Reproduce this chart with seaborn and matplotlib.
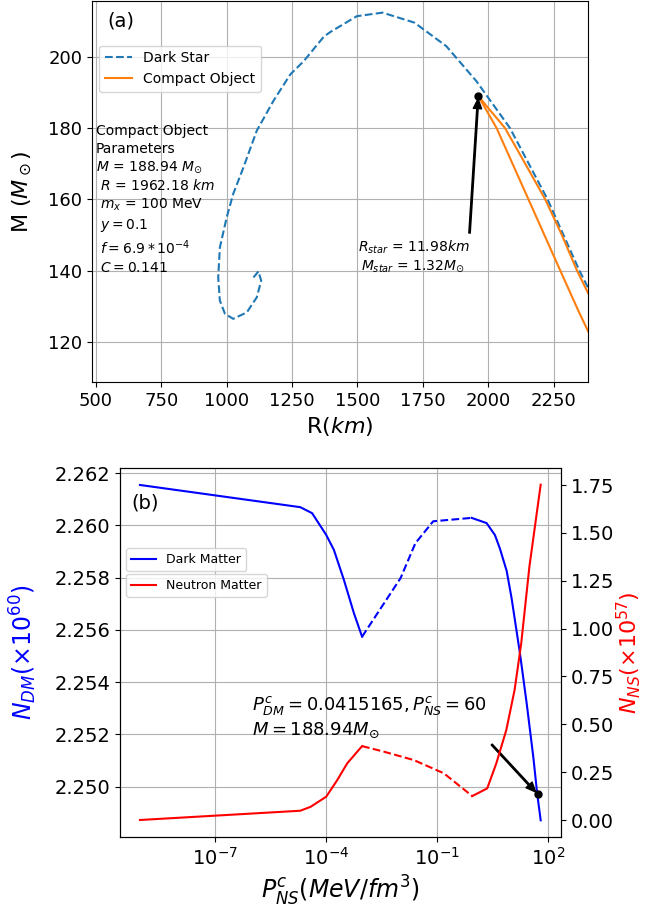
import numpy as np
import pandas as pd
import matplotlib
matplotlib.use("Agg")
import matplotlib.pyplot as plt
from matplotlib.ticker import NullLocator
import seaborn as sns

# ---------------- data: panel (a) ----------------
ds_R = [1102.5, 1121.5, 1132, 1115, 1077, 1025, 993.5, 974, 967.7, 974, 1000, 1025,
        1064, 1115, 1179, 1243.5, 1294.6, 1372, 1397, 1497.7, 1596, 1718, 1840, 1955,
        2083, 2227, 2349, 2383]
ds_M = [138.1, 139.8, 137.2, 132.5, 128.3, 126.5, 127.9, 131.6, 138.1, 146.5, 154.9, 161.5,
        168.9, 179.2, 187.6, 195.0, 198.7, 205.6, 206.9, 211.3, 212.3, 209.5, 202.9, 193.1,
        180.0, 160.0, 140.0, 135.1]

co_upper_R = [1962.18, 2000, 2064, 2140, 2218, 2280, 2340, 2383]
co_upper_M = [188.94, 185.6, 180.0, 170.2, 160.0, 150.3, 140.0, 133.6]
co_lower_R = [1962.18, 2032, 2093, 2154, 2215, 2276, 2346, 2383]
co_lower_M = [188.94, 180.0, 170.0, 160.0, 150.0, 140.0, 128.6, 122.9]

star_R, star_M = 1962.18, 188.94

# ---------------- data: panel (b) ----------------
dm_P1 = [9.33e-10, 2.0e-5, 4.17e-5, 1.0e-4, 1.62e-4, 3.02e-4, 5.62e-4, 9.33e-4]
dm_N1 = [2.26155, 2.2607, 2.26047, 2.25964, 2.25906, 2.25791, 2.25664, 2.25574]
dm_P2 = [9.33e-4, 1.02e-2, 2.57e-2, 7.8e-2, 0.851]
dm_N2 = [2.25574, 2.25798, 2.25932, 2.26016, 2.26029]
dm_P3 = [0.851, 2.16, 3.63, 4.95, 7.52, 10.2, 17.2, 26.1, 39.4, 50.1, 62.4]
dm_N3 = [2.26029, 2.26009, 2.25963, 2.25911, 2.25826, 2.25722, 2.2551, 2.25319, 2.25114,
         2.24974, 2.24871]

ns_P1 = [9.33e-10, 2.0e-5, 3.8e-5, 1.0e-4, 2.0e-4, 3.7e-4, 9.33e-4]
ns_N1 = [0.0, 0.0484, 0.069, 0.1215, 0.209, 0.296, 0.386]
ns_P2 = [9.33e-4, 3.63e-3, 2.34e-2, 0.151, 0.883]
ns_N2 = [0.386, 0.357, 0.313, 0.244, 0.125]
ns_P3 = [0.883, 2.24, 3.95, 7.35, 12.3, 18.6, 30.9, 62.4]
ns_N3 = [0.125, 0.165, 0.296, 0.47, 0.679, 0.923, 1.323, 1.752]

mark_P, mark_N = 51.8, 2.24971

# ---------------- figure ----------------
fig = plt.figure(figsize=(6.45, 9.09), dpi=100)
axA = fig.add_axes([92/645, 1 - 382/909, (588.3 - 92)/645, 381.5/909])
axB = fig.add_axes([120/645, 1 - 837/909, (560.7 - 120)/645, (837 - 468)/909])

# ---- panel (a)
sns.lineplot(x=ds_R, y=ds_M, ax=axA, sort=False, estimator=None, color='#1f77b4',
             linestyle='--', lw=1.5, label='Dark Star', legend=False)
sns.lineplot(x=co_upper_R, y=co_upper_M, ax=axA, sort=False, estimator=None,
             color='#ff7f0e', lw=1.5, label='Compact Object', legend=False)
sns.lineplot(x=co_lower_R, y=co_lower_M, ax=axA, sort=False, estimator=None,
             color='#ff7f0e', lw=1.5, legend=False)
axA.plot([star_R], [star_M], 'o', color='black', ms=5, zorder=5)
axA.annotate('$R_{star}$ = 11.98$km$\n$M_{star}$ = 1.32$M_{\\odot}$',
             xy=(star_R, star_M), xytext=(1714, 144), ha='center', va='center',
             fontsize=10,
             arrowprops=dict(facecolor='black', edgecolor='black', width=1, headwidth=6,
                             headlength=7, shrink=0.02))
axA.text(0.0075, 0.675,
         'Compact Object\nParameters\n$M$ = 188.94 $M_{\\odot}$\n $R$ = 1962.18 $km$\n'
         ' $m_x$ = 100 MeV\n $y = 0.1$\n $f = 6.9*10^{-4}$\n $C = 0.141$',
         transform=axA.transAxes, va='top', ha='left', fontsize=10, linespacing=1.3)
axA.text(0.03, 0.972, '(a)', transform=axA.transAxes, va='top', ha='left', fontsize=14)
axA.set_xlim(485, 2383)
axA.set_ylim(108.8, 215.7)
axA.set_xticks([500, 750, 1000, 1250, 1500, 1750, 2000, 2250])
axA.set_yticks([120, 140, 160, 180, 200])
axA.tick_params(labelsize=13)
axA.grid(True, color='#b0b0b0', lw=0.8)
axA.set_axisbelow(True)
axA.set_xlabel('R($km$)', fontsize=16)
axA.set_ylabel('M ($M_\\odot$)', fontsize=16, labelpad=10)
axA.legend(loc='upper left', bbox_to_anchor=(0.0, 0.9), fontsize=10)

# ---- panel (b)
axB2 = axB.twinx()
sns.lineplot(x=dm_P1, y=dm_N1, ax=axB, sort=False, estimator=None, color='blue', lw=1.5,
             label='Dark Matter', legend=False)
sns.lineplot(x=dm_P2, y=dm_N2, ax=axB, sort=False, estimator=None, color='blue', lw=1.5,
             linestyle='--', legend=False)
sns.lineplot(x=dm_P3, y=dm_N3, ax=axB, sort=False, estimator=None, color='blue', lw=1.5,
             legend=False)
axB.plot([mark_P], [mark_N], 'o', color='black', ms=5, zorder=5)

sns.lineplot(x=ns_P1, y=ns_N1, ax=axB2, sort=False, estimator=None, color='red', lw=1.5,
             label='Neutron Matter', legend=False)
sns.lineplot(x=ns_P2, y=ns_N2, ax=axB2, sort=False, estimator=None, color='red', lw=1.5,
             linestyle='--', legend=False)
sns.lineplot(x=ns_P3, y=ns_N3, ax=axB2, sort=False, estimator=None, color='red', lw=1.5,
             legend=False)

axB.set_xscale('log')
axB.set_xlim(10**-9.57, 10**2.336)
axB.set_xticks([1e-7, 1e-4, 1e-1, 1e2])
axB.xaxis.set_minor_locator(NullLocator())
axB.set_ylim(2.24807, 2.2622)
yl = [2.250, 2.252, 2.254, 2.256, 2.258, 2.260, 2.262]
axB.set_yticks(yl)
axB.set_yticklabels([f'{v:.3f}' for v in yl])
yr = [0.0, 0.25, 0.5, 0.75, 1.0, 1.25, 1.5, 1.75]
axB2.set_ylim(-0.0888, 1.839)
axB2.set_yticks(yr)
axB2.set_yticklabels([f'{v:.2f}' for v in yr])
axB.tick_params(labelsize=14)
axB2.tick_params(labelsize=14)
axB.grid(True, color='#b0b0b0', lw=0.8)
axB.set_axisbelow(True)
axB.set_xlabel('$P^c_{NS}(MeV/fm^3)$', fontsize=17)
axB.set_ylabel('$N_{DM}(\\times10^{60})$', fontsize=17, color='blue', labelpad=11)
axB2.set_ylabel('$N_{NS}(\\times10^{57})$', fontsize=16, color='red', labelpad=0)
axB.text(0.025, 0.93, '(b)', transform=axB.transAxes, va='top', ha='left', fontsize=14)
axB.annotate('$P^c_{DM} = 0.0415165, P^c_{NS} = 60$\n$M = 188.94 M_{\\odot}$',
             xy=(mark_P, mark_N), xytext=(1.0e-6, 2.2518), ha='left', va='bottom',
             fontsize=13,
             arrowprops=dict(facecolor='black', edgecolor='black', width=1, headwidth=6,
                             headlength=7, shrink=0.04))
axB.legend(loc='upper left', bbox_to_anchor=(0.0, 0.80), fontsize=9)
axB2.legend(loc='upper left', bbox_to_anchor=(0.0, 0.73), fontsize=9)

fig.savefig('out.png', dpi=100)
